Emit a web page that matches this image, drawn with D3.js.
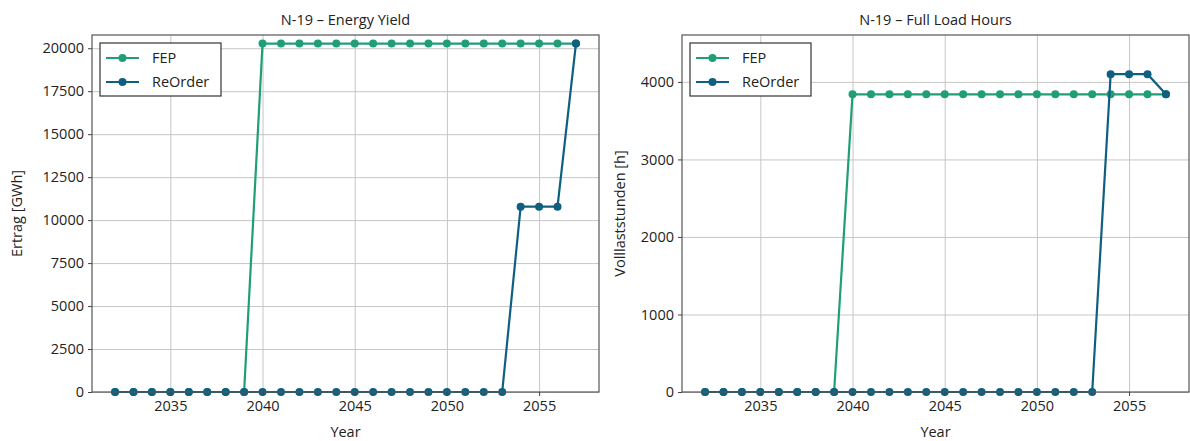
<!DOCTYPE html>
<html>
<head>
<meta charset="utf-8">
<script src="https://cdn.jsdelivr.net/npm/d3@7"></script>
<style>
    body { margin: 0; background: #fff; font-family: "Open Sans", "Noto Sans", sans-serif; }
    .axis text { font-size: 14.5px; fill: #222; font-family: "Open Sans", "Noto Sans", sans-serif; }
    .axis path, .axis line { stroke: #444; }
    .grid line { stroke: #c6c6c6; stroke-width: 1; }
    .grid path { display: none; }
</style>
</head>
<body>
<div id="chart"></div>
<script>
// data
let years = d3.range(2032, 2058);

let yieldFEP = [0, 0, 0, 0, 0, 0, 0, 0,
    20270, 20270, 20270, 20270, 20270, 20270, 20270, 20270, 20270,
    20270, 20270, 20270, 20270, 20270, 20270, 20270, 20270, 20270];
let yieldReOrder = [0, 0, 0, 0, 0, 0, 0, 0, 0, 0, 0, 0, 0, 0, 0, 0, 0, 0, 0, 0, 0, 0,
    10780, 10780, 10780, 20270];

let hoursFEP = [0, 0, 0, 0, 0, 0, 0, 0,
    3840, 3840, 3840, 3840, 3840, 3840, 3840, 3840, 3840,
    3840, 3840, 3840, 3840, 3840, 3840, 3840, 3840, 3840];
let hoursReOrder = [0, 0, 0, 0, 0, 0, 0, 0, 0, 0, 0, 0, 0, 0, 0, 0, 0, 0, 0, 0, 0, 0,
    4100, 4100, 4100, 3840];

let yieldTicks = [0, 2500, 5000, 7500, 10000, 12500, 15000, 17500, 20000];
let hoursTicks = [0, 1000, 2000, 3000, 4000];
let yearTicks = [2035, 2040, 2045, 2050, 2055];

let seriesNames = ["FEP", "ReOrder"];
let colors = ["#1f9e78", "#0e5f80"];

let svg = d3.select("#chart").append("svg")
    .attr("width", 1190)
    .attr("height", 441);

function drawPanel(opts) {
    let g = svg.append("g")
        .attr("transform", "translate(" + opts.left + "," + 35 + ")");

    let width = opts.width, height = 357;

    // matplotlib style 5% margin on x
    let x = d3.scaleLinear()
        .domain([2032 - 1.25, 2057 + 1.25])
        .range([0, width]);

    let y = d3.scaleLinear()
        .domain([0, opts.yMax])
        .range([height, 0]);

    // grid
    g.append("g")
        .attr("class", "grid")
        .attr("transform", "translate(0," + height + ")")
        .call(d3.axisBottom(x).tickValues(yearTicks).tickSize(-height).tickFormat(""));
    g.append("g")
        .attr("class", "grid")
        .call(d3.axisLeft(y).tickValues(opts.yTicks).tickSize(-width).tickFormat(""));

    let line = d3.line()
        .x((d, i) => x(years[i]))
        .y(d => y(d));

    opts.series.forEach(function (s, k) {
        g.append("path")
            .datum(s)
            .attr("fill", "none")
            .attr("stroke", colors[k])
            .attr("stroke-width", 2.2)
            .attr("d", line);

        g.selectAll(".pt" + k)
            .data(s)
            .enter().append("circle")
            .attr("class", "pt" + k)
            .attr("cx", (d, i) => x(years[i]))
            .attr("cy", d => y(d))
            .attr("r", 4)
            .attr("fill", colors[k]);
    });

    // frame
    g.append("rect")
        .attr("width", width)
        .attr("height", height)
        .attr("fill", "none")
        .attr("stroke", "#555")
        .attr("stroke-width", 1.2);

    // axes
    g.append("g")
        .attr("class", "axis")
        .attr("transform", "translate(0," + height + ")")
        .call(d3.axisBottom(x).tickValues(yearTicks).tickSize(4).tickPadding(5).tickFormat(d3.format("d")))
        .call(a => a.select(".domain").remove());
    g.append("g")
        .attr("class", "axis")
        .call(d3.axisLeft(y).tickValues(opts.yTicks).tickSize(4).tickPadding(4).tickFormat(d3.format("d")))
        .call(a => a.select(".domain").remove());

    // title
    g.append("text")
        .attr("x", width / 2)
        .attr("y", -10)
        .attr("text-anchor", "middle")
        .style("font-size", "14.5px")
        .attr("fill", "#222")
        .text(opts.title);

    // axis titles
    g.append("text")
        .attr("x", width / 2)
        .attr("y", height + 45)
        .attr("text-anchor", "middle")
        .style("font-size", "14.5px")
        .attr("fill", "#222")
        .text("Year");
    g.append("text")
        .attr("transform", "translate(" + opts.yLabelX + "," + (height / 2) + ") rotate(-90)")
        .attr("text-anchor", "middle")
        .style("font-size", "14.5px")
        .attr("fill", "#222")
        .text(opts.yLabel);

    // legend
    let lg = g.append("g").attr("transform", "translate(8,8)");
    lg.append("rect")
        .attr("width", 121)
        .attr("height", 53)
        .attr("fill", "#fff")
        .attr("stroke", "#333")
        .attr("stroke-width", 1.2);
    seriesNames.forEach(function (name, k) {
        let yy = 15 + k * 24;
        lg.append("line")
            .attr("x1", 6).attr("x2", 39)
            .attr("y1", yy).attr("y2", yy)
            .attr("stroke", colors[k])
            .attr("stroke-width", 2.2);
        lg.append("circle")
            .attr("cx", 22.5).attr("cy", yy).attr("r", 4)
            .attr("fill", colors[k]);
        lg.append("text")
            .attr("x", 52).attr("y", yy + 5)
            .style("font-size", "14.5px")
            .attr("fill", "#222")
            .text(name);
    });
}

drawPanel({
    left: 92, width: 507,
    yMax: 20770, yTicks: yieldTicks,
    series: [yieldFEP, yieldReOrder],
    title: "N-19 \u2013 Energy Yield",
    yLabel: "Ertrag [GWh]", yLabelX: -70
});

drawPanel({
    left: 682, width: 507,
    yMax: 4605, yTicks: hoursTicks,
    series: [hoursFEP, hoursReOrder],
    title: "N-19 \u2013 Full Load Hours",
    yLabel: "Volllaststunden [h]", yLabelX: -57
});
</script>
</body>
</html>
